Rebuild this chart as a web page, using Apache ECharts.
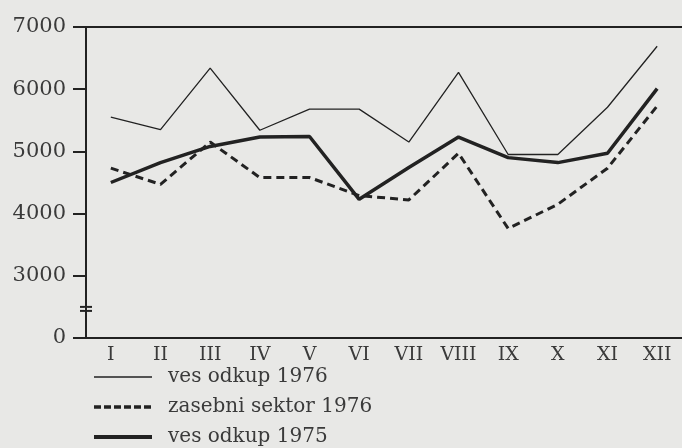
<!DOCTYPE html>
<html>
<head>
<meta charset="utf-8">
<script src="https://cdn.jsdelivr.net/npm/echarts@6/dist/echarts.min.js"></script>
<style>
  html, body { margin: 0; padding: 0; background: #e8e8e6; }
  #chart { width: 682px; height: 448px; }
</style>
</head>
<body>
<div id="chart"></div>
<script>
// meseci
var months = ['I', 'II', 'III', 'IV', 'V', 'VI', 'VII', 'VIII', 'IX', 'X', 'XI', 'XII']
// ves odkup 1976
var vesOdkup1976 = [5550, 5350, 6340, 5340, 5680, 5680, 5150, 6270, 4950, 4950, 5710, 6690]
// zasebni sektor 1976
var zasebniSektor1976 = [4730, 4470, 5150, 4580, 4580, 4290, 4220, 4970, 3760, 4150, 4730, 5730]
// ves odkup 1975
var vesOdkup1975 = [4500, 4820, 5080, 5230, 5240, 4230, 4740, 5230, 4900, 4820, 4970, 6010]
// y os je prekinjena: spodnja vrednost se izpiše kot 0
var yTickValues = [2000, 3000, 4000, 5000, 6000, 7000]
var yTickLabels = ['0', '3000', '4000', '5000', '6000', '7000']

var ink = '#222'
var txt = '#3a3a3a'
var font = 'DejaVu Serif'

var chart = echarts.init(document.getElementById('chart'))
var options = {
    backgroundColor: '#e8e8e6',
    animation: false,
    grid: { left: 86, right: 0, top: 27, bottom: 110 },
    legend: {
        orient: 'vertical',
        left: 87,
        top: 362,
        height: 120,
        itemWidth: 58,
        itemHeight: 14,
        itemGap: 10,
        itemStyle: { opacity: 0 },
        textStyle: { fontFamily: font, fontSize: 20, lineHeight: 18, color: txt, padding: [0, 0, 0, 11] },
        data: [
            { name: 'ves odkup 1976', lineStyle: { width: 1.5 } },
            { name: 'zasebni sektor 1976', lineStyle: { width: 3.5, type: [7, 3] } },
            { name: 'ves odkup 1975', lineStyle: { width: 4 } }
        ]
    },
    xAxis: [{
        type: 'category',
        data: months,
        boundaryGap: true,
        axisLine: { lineStyle: { color: ink, width: 2 } },
        axisTick: { inside: true, length: 10, lineStyle: { color: ink, width: 2 } },
        axisLabel: { fontFamily: font, fontSize: 19, color: txt, margin: 8 }
    }, {
        type: 'category',
        position: 'top',
        data: months,
        axisLine: { lineStyle: { color: ink, width: 2 } },
        axisTick: { show: false },
        axisLabel: { show: false }
    }],
    yAxis: {
        type: 'value',
        min: 2000,
        max: 7000,
        interval: 1000,
        axisLine: { show: true, lineStyle: { color: ink, width: 2 } },
        axisTick: { show: true, length: 13, lineStyle: { color: ink, width: 2 } },
        splitLine: { show: false },
        axisLabel: {
            fontFamily: font,
            fontSize: 21,
            color: txt,
            margin: 20,
            formatter: function(v) {
                var i = yTickValues.indexOf(v)
                return i >= 0 ? yTickLabels[i] : ''
            }
        }
    },
    series: [{
        name: 'ves odkup 1976',
        type: 'line',
        data: vesOdkup1976,
        symbol: 'none',
        lineStyle: { color: ink, width: 1.3 },
        itemStyle: { color: ink }
    }, {
        name: 'zasebni sektor 1976',
        type: 'line',
        data: zasebniSektor1976,
        symbol: 'none',
        lineStyle: { color: ink, width: 3, type: [8, 5] },
        itemStyle: { color: ink }
    }, {
        name: 'ves odkup 1975',
        type: 'line',
        data: vesOdkup1975,
        symbol: 'none',
        lineStyle: { color: ink, width: 3.5 },
        itemStyle: { color: ink }
    }]
}
chart.setOption(options)

// oznaka prekinitve osi
var p = chart.convertToPixel({ xAxisIndex: 0, yAxisIndex: 0 }, [0, 2500])
var ax = chart.getModel().getComponent('grid').coordinateSystem.getRect().x
chart.setOption({
    graphic: [
        { type: 'line', shape: { x1: ax - 6, y1: p[1], x2: ax + 6, y2: p[1] }, style: { stroke: ink, lineWidth: 2 } },
        { type: 'line', shape: { x1: ax - 6, y1: p[1] + 4, x2: ax + 6, y2: p[1] + 4 }, style: { stroke: ink, lineWidth: 2 } },
        { type: 'rect', shape: { x: ax - 2, y: p[1] + 1, width: 4, height: 2 }, style: { fill: '#e8e8e6' } }
    ]
})
</script>
</body>
</html>
